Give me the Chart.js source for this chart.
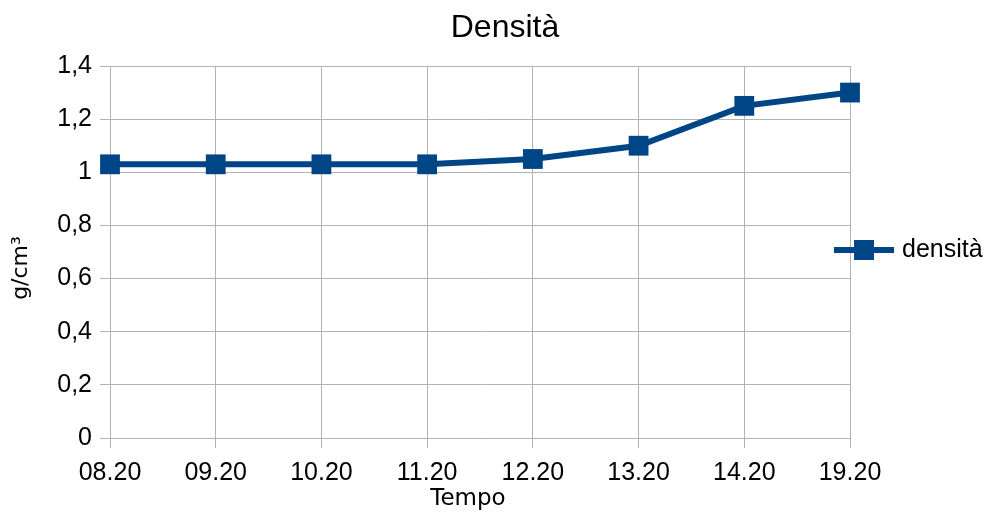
<!DOCTYPE html>
<html>
<head>
  <meta charset="UTF-8" />
  <title>Densità</title>
  <script src="https://cdn.jsdelivr.net/npm/chart.js"></script>
  <style>
    body { margin: 0; background: #fff; }
    #wrap { width: 988px; height: 512px; }
  </style>
</head>
<body>
  <div id="wrap"><canvas id="chart" width="988" height="512"></canvas></div>
  <script>
const times = ['08.20', '09.20', '10.20', '11.20', '12.20', '13.20', '14.20', '19.20'];
const densita = [1.03, 1.03, 1.03, 1.03, 1.05, 1.10, 1.25, 1.30];
const yTicks = [0, 0.2, 0.4, 0.6, 0.8, 1, 1.2, 1.4];
const chartTitle = 'Densità';
const xTitle = 'Tempo';
const yTitle = 'g/cm³';

const blue = '#004586';
const gridCol = '#b3b3b3';
const font = '"Liberation Sans", Arial, sans-serif';
const titleFont = '"DejaVu Sans", sans-serif';

// titles and legend drawn by hand so they sit where the original has them
const extras = {
  id: 'extras',
  afterDraw(chart) {
    const ctx = chart.ctx;
    ctx.save();
    ctx.fillStyle = '#000';
    ctx.textAlign = 'center';
    ctx.textBaseline = 'middle';
    ctx.font = '32px ' + font;
    ctx.fillText(chartTitle, 505, 28);

    ctx.font = '23px ' + titleFont;
    ctx.fillText(xTitle, 468, 499);

    ctx.save();
    ctx.translate(21, 268);
    ctx.rotate(-Math.PI / 2);
    ctx.font = '22px ' + titleFont;
    ctx.fillText(yTitle, 0, 0);
    ctx.restore();

    const y = 250;
    ctx.strokeStyle = blue;
    ctx.lineWidth = 6;
    ctx.beginPath();
    ctx.moveTo(834, y);
    ctx.lineTo(894, y);
    ctx.stroke();
    ctx.fillStyle = blue;
    ctx.fillRect(854, y - 10, 20, 20);
    ctx.fillStyle = '#000';
    ctx.font = '25px ' + font;
    ctx.textAlign = 'left';
    ctx.fillText(chart.data.datasets[0].label, 902, y);
    ctx.restore();
  }
};

new Chart(document.getElementById('chart'), {
  type: 'line',
  data: {
    labels: times,
    datasets: [{
      label: 'densità',
      data: densita,
      borderColor: blue,
      backgroundColor: blue,
      borderWidth: 6,
      pointStyle: 'rect',
      pointRadius: 14,
      pointHoverRadius: 14,
      pointBorderWidth: 0,
      tension: 0
    }]
  },
  options: {
    responsive: false,
    animation: false,
    layout: { padding: { left: 0, right: 138, top: 66, bottom: 0 } },
    plugins: {
      legend: { display: false },
      tooltip: { enabled: false },
      title: { display: false }
    },
    scales: {
      x: {
        offset: false,
        grid: { color: gridCol, tickLength: 10, offset: false },
        border: { color: gridCol },
        ticks: { color: '#000', font: { family: font, size: 25 }, padding: 10, maxRotation: 0 },
        afterFit(s) { s.height = 74; }
      },
      y: {
        min: 0,
        max: 1.4,
        afterBuildTicks(s) { s.ticks = yTicks.map(v => ({ value: v })); },
        grid: { color: gridCol, tickLength: 10 },
        border: { color: gridCol },
        ticks: {
          color: '#000',
          font: { family: font, size: 25 },
          padding: 8,
          callback: v => String(Math.round(v * 10) / 10).replace('.', ',')
        },
        afterFit(s) { s.width = 110; }
      }
    }
  },
  plugins: [extras]
});
  </script>
</body>
</html>
